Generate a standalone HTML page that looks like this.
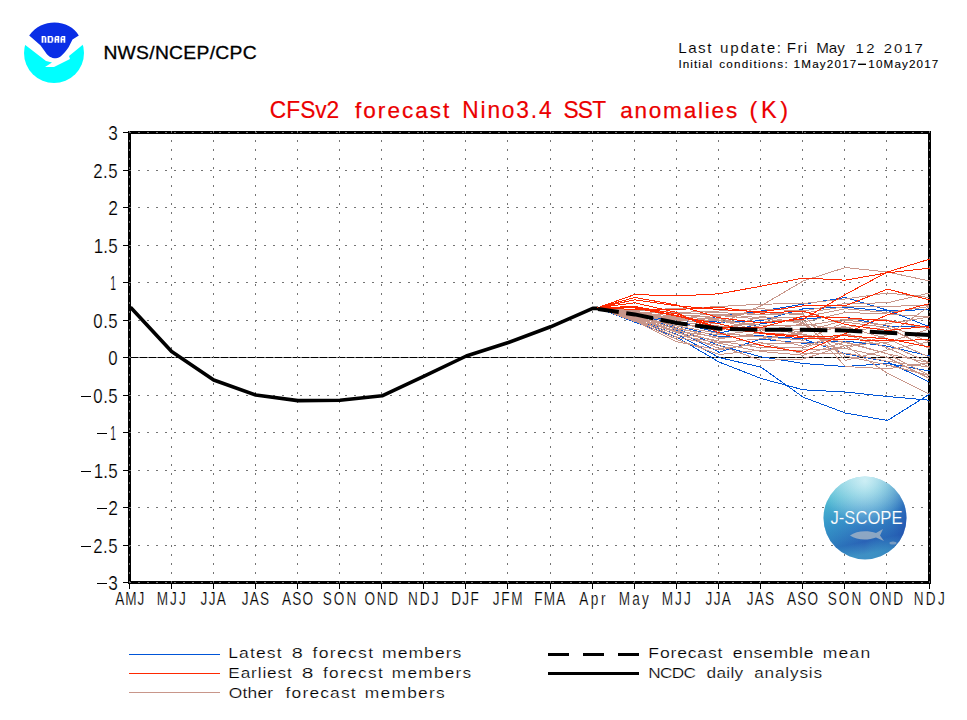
<!DOCTYPE html>
<html><head><meta charset="utf-8"><style>
html,body{margin:0;padding:0;background:#fff;}
svg{display:block;}
text{font-family:"Liberation Sans", sans-serif;}
</style></head><body>
<svg width="967" height="720" viewBox="0 0 967 720">
<rect width="967" height="720" fill="#fff"/>

<g>
 <clipPath id="nc"><circle cx="54" cy="53" r="30"/></clipPath>
 <g clip-path="url(#nc)">
  <path d="M20,41 L46,61 L52,62.5 L45,67 L54,67 L70,59 L69,56 L90,39 L90,90 L20,90 Z" fill="#00ffff"/>
 </g>
 <path d="M54.5,22.4 C45,22.6 36,26 29.2,35.5 L40.4,45.2 L45.3,52 C48,56 51,58.3 56,58.3 C60,58 63,55 68.6,47.2 L72.5,39.4 L78.8,35.5 C74,27 65,22.6 54.5,22.4 Z" fill="#0a2ee6"/>
 <path d="M41.6,42.7 V36.1 H45.5 V37.3 H46.4 V42.7 H44.6 V37.3 H43.4 V42.7 Z M47.6,36.1 H52.4 V37.3 H53.3 V41.5 H52.4 V42.7 H47.6 Z M49.4,37.3 V41.5 H51.5 V37.3 Z M54.5,42.7 V37.3 H55.4 V36.1 H59.3 V42.7 H57.5 V40.3 H56.3 V42.7 Z M56.3,37.3 V39.1 H57.5 V37.3 Z M60.5,42.7 V37.3 H61.4 V36.1 H65.3 V42.7 H63.5 V40.3 H62.3 V42.7 Z M62.3,37.3 V39.1 H63.5 V37.3 Z" fill="#fff"/>
</g>
<g shape-rendering="crispEdges">
<line x1="129" y1="357.5" x2="930" y2="357.5" stroke="#000" stroke-width="1"/>
<rect x="129.5" y="132.5" width="800" height="450" fill="none" stroke="#000" stroke-width="3"/>
<line x1="123" y1="132.5" x2="129" y2="132.5" stroke="#000" stroke-width="1"/>
<line x1="123" y1="170.5" x2="129" y2="170.5" stroke="#000" stroke-width="1"/>
<line x1="123" y1="207.5" x2="129" y2="207.5" stroke="#000" stroke-width="1"/>
<line x1="123" y1="245.5" x2="129" y2="245.5" stroke="#000" stroke-width="1"/>
<line x1="123" y1="282.5" x2="129" y2="282.5" stroke="#000" stroke-width="1"/>
<line x1="123" y1="320.5" x2="129" y2="320.5" stroke="#000" stroke-width="1"/>
<line x1="123" y1="357.5" x2="129" y2="357.5" stroke="#000" stroke-width="1"/>
<line x1="123" y1="395.5" x2="129" y2="395.5" stroke="#000" stroke-width="1"/>
<line x1="123" y1="432.5" x2="129" y2="432.5" stroke="#000" stroke-width="1"/>
<line x1="123" y1="470.5" x2="129" y2="470.5" stroke="#000" stroke-width="1"/>
<line x1="123" y1="507.5" x2="129" y2="507.5" stroke="#000" stroke-width="1"/>
<line x1="123" y1="545.5" x2="129" y2="545.5" stroke="#000" stroke-width="1"/>
<line x1="123" y1="582.5" x2="129" y2="582.5" stroke="#000" stroke-width="1"/>
<line x1="129.5" y1="583" x2="129.5" y2="589" stroke="#000" stroke-width="1"/>
<line x1="171.5" y1="583" x2="171.5" y2="589" stroke="#000" stroke-width="1"/>
<line x1="213.5" y1="583" x2="213.5" y2="589" stroke="#000" stroke-width="1"/>
<line x1="255.5" y1="583" x2="255.5" y2="589" stroke="#000" stroke-width="1"/>
<line x1="297.5" y1="583" x2="297.5" y2="589" stroke="#000" stroke-width="1"/>
<line x1="339.5" y1="583" x2="339.5" y2="589" stroke="#000" stroke-width="1"/>
<line x1="381.5" y1="583" x2="381.5" y2="589" stroke="#000" stroke-width="1"/>
<line x1="423.5" y1="583" x2="423.5" y2="589" stroke="#000" stroke-width="1"/>
<line x1="465.5" y1="583" x2="465.5" y2="589" stroke="#000" stroke-width="1"/>
<line x1="507.5" y1="583" x2="507.5" y2="589" stroke="#000" stroke-width="1"/>
<line x1="550.5" y1="583" x2="550.5" y2="589" stroke="#000" stroke-width="1"/>
<line x1="592.5" y1="583" x2="592.5" y2="589" stroke="#000" stroke-width="1"/>
<line x1="634.5" y1="583" x2="634.5" y2="589" stroke="#000" stroke-width="1"/>
<line x1="676.5" y1="583" x2="676.5" y2="589" stroke="#000" stroke-width="1"/>
<line x1="718.5" y1="583" x2="718.5" y2="589" stroke="#000" stroke-width="1"/>
<line x1="760.5" y1="583" x2="760.5" y2="589" stroke="#000" stroke-width="1"/>
<line x1="802.5" y1="583" x2="802.5" y2="589" stroke="#000" stroke-width="1"/>
<line x1="844.5" y1="583" x2="844.5" y2="589" stroke="#000" stroke-width="1"/>
<line x1="886.5" y1="583" x2="886.5" y2="589" stroke="#000" stroke-width="1"/>
<line x1="929.5" y1="583" x2="929.5" y2="589" stroke="#000" stroke-width="1"/>
</g>
<g shape-rendering="crispEdges">
<line x1="129" y1="132.5" x2="930" y2="132.5" stroke="#747474" stroke-width="1" stroke-dasharray="2 7"/>
<line x1="129" y1="170.5" x2="930" y2="170.5" stroke="#747474" stroke-width="1" stroke-dasharray="2 7"/>
<line x1="129" y1="207.5" x2="930" y2="207.5" stroke="#747474" stroke-width="1" stroke-dasharray="2 7"/>
<line x1="129" y1="245.5" x2="930" y2="245.5" stroke="#747474" stroke-width="1" stroke-dasharray="2 7"/>
<line x1="129" y1="282.5" x2="930" y2="282.5" stroke="#747474" stroke-width="1" stroke-dasharray="2 7"/>
<line x1="129" y1="320.5" x2="930" y2="320.5" stroke="#747474" stroke-width="1" stroke-dasharray="2 7"/>
<line x1="129" y1="357.5" x2="930" y2="357.5" stroke="#747474" stroke-width="1" stroke-dasharray="2 7"/>
<line x1="129" y1="395.5" x2="930" y2="395.5" stroke="#747474" stroke-width="1" stroke-dasharray="2 7"/>
<line x1="129" y1="432.5" x2="930" y2="432.5" stroke="#747474" stroke-width="1" stroke-dasharray="2 7"/>
<line x1="129" y1="470.5" x2="930" y2="470.5" stroke="#747474" stroke-width="1" stroke-dasharray="2 7"/>
<line x1="129" y1="507.5" x2="930" y2="507.5" stroke="#747474" stroke-width="1" stroke-dasharray="2 7"/>
<line x1="129" y1="545.5" x2="930" y2="545.5" stroke="#747474" stroke-width="1" stroke-dasharray="2 7"/>
<line x1="129" y1="582.5" x2="930" y2="582.5" stroke="#747474" stroke-width="1" stroke-dasharray="2 7"/>
<line x1="129.5" y1="131" x2="129.5" y2="584" stroke="#747474" stroke-width="1" stroke-dasharray="2 7"/>
<line x1="171.5" y1="131" x2="171.5" y2="584" stroke="#747474" stroke-width="1" stroke-dasharray="2 7"/>
<line x1="213.5" y1="131" x2="213.5" y2="584" stroke="#747474" stroke-width="1" stroke-dasharray="2 7"/>
<line x1="255.5" y1="131" x2="255.5" y2="584" stroke="#747474" stroke-width="1" stroke-dasharray="2 7"/>
<line x1="297.5" y1="131" x2="297.5" y2="584" stroke="#747474" stroke-width="1" stroke-dasharray="2 7"/>
<line x1="339.5" y1="131" x2="339.5" y2="584" stroke="#747474" stroke-width="1" stroke-dasharray="2 7"/>
<line x1="381.5" y1="131" x2="381.5" y2="584" stroke="#747474" stroke-width="1" stroke-dasharray="2 7"/>
<line x1="423.5" y1="131" x2="423.5" y2="584" stroke="#747474" stroke-width="1" stroke-dasharray="2 7"/>
<line x1="465.5" y1="131" x2="465.5" y2="584" stroke="#747474" stroke-width="1" stroke-dasharray="2 7"/>
<line x1="507.5" y1="131" x2="507.5" y2="584" stroke="#747474" stroke-width="1" stroke-dasharray="2 7"/>
<line x1="550.5" y1="131" x2="550.5" y2="584" stroke="#747474" stroke-width="1" stroke-dasharray="2 7"/>
<line x1="592.5" y1="131" x2="592.5" y2="584" stroke="#747474" stroke-width="1" stroke-dasharray="2 7"/>
<line x1="634.5" y1="131" x2="634.5" y2="584" stroke="#747474" stroke-width="1" stroke-dasharray="2 7"/>
<line x1="676.5" y1="131" x2="676.5" y2="584" stroke="#747474" stroke-width="1" stroke-dasharray="2 7"/>
<line x1="718.5" y1="131" x2="718.5" y2="584" stroke="#747474" stroke-width="1" stroke-dasharray="2 7"/>
<line x1="760.5" y1="131" x2="760.5" y2="584" stroke="#747474" stroke-width="1" stroke-dasharray="2 7"/>
<line x1="802.5" y1="131" x2="802.5" y2="584" stroke="#747474" stroke-width="1" stroke-dasharray="2 7"/>
<line x1="844.5" y1="131" x2="844.5" y2="584" stroke="#747474" stroke-width="1" stroke-dasharray="2 7"/>
<line x1="886.5" y1="131" x2="886.5" y2="584" stroke="#747474" stroke-width="1" stroke-dasharray="2 7"/>
<line x1="929.5" y1="131" x2="929.5" y2="584" stroke="#747474" stroke-width="1" stroke-dasharray="2 7"/>
</g>
<path d="M130.5,307.2 L171.6,351.5 L213.7,380.0 L255.8,395.0 L297.9,400.6 L340.0,400.2 L382.1,395.8 L424.2,376.2 L466.3,356.0 L508.4,342.5 L550.6,326.8 L592.7,308.4 L598.0,308.4" fill="none" stroke="#000" stroke-width="3.6" stroke-linejoin="round"/>
<g fill="none" stroke-width="1" shape-rendering="crispEdges"><path d="M597.5,307.8 L634.8,320.0 L676.9,334.2 L719.0,357.5 L761.1,367.2 L803.2,397.2 L845.3,413.0 L887.4,420.5 L929.5,394.2" stroke="#0055d8"/>
<path d="M597.5,307.8 L634.8,322.2 L676.9,337.2 L719.0,362.0 L761.1,378.5 L803.2,389.8 L845.3,392.0 L887.4,396.5 L929.5,400.2" stroke="#0055d8"/>
<path d="M597.5,307.8 L634.8,316.2 L676.9,328.6 L719.0,345.5 L761.1,356.8 L803.2,363.5 L845.3,366.5 L887.4,363.5 L929.5,371.0" stroke="#0055d8"/>
<path d="M597.5,307.8 L634.8,320.8 L676.9,330.5 L719.0,352.2 L761.1,339.1 L803.2,343.2 L845.3,341.0 L887.4,346.2 L929.5,356.0" stroke="#0055d8"/>
<path d="M597.5,307.8 L634.8,317.8 L676.9,326.0 L719.0,336.5 L761.1,335.8 L803.2,338.8 L845.3,353.8 L887.4,361.6 L929.5,382.2" stroke="#0055d8"/>
<path d="M597.5,307.8 L634.8,314.0 L676.9,321.5 L719.0,333.1 L761.1,323.8 L803.2,318.5 L845.3,317.0 L887.4,326.0 L929.5,326.0" stroke="#0055d8"/>
<path d="M597.5,307.8 L634.8,312.5 L676.9,318.5 L719.0,322.2 L761.1,320.8 L803.2,308.8 L845.3,307.2 L887.4,311.0 L929.5,309.5" stroke="#0055d8"/>
<path d="M597.5,307.8 L634.8,314.8 L676.9,323.8 L719.0,316.2 L761.1,311.0 L803.2,304.2 L845.3,297.5 L887.4,310.2 L929.5,326.8" stroke="#0055d8"/>
<path d="M597.5,307.8 L634.8,311.0 L676.9,320.0 L719.0,323.8 L761.1,305.8 L803.2,281.0 L845.3,267.5 L887.4,272.0 L929.5,281.0" stroke="#c8968a"/>
<path d="M597.5,307.8 L634.8,309.5 L676.9,308.8 L719.0,306.5 L761.1,304.2 L803.2,303.5 L845.3,299.0 L887.4,293.0 L929.5,297.5" stroke="#c8968a"/>
<path d="M597.5,307.8 L634.8,310.2 L676.9,312.5 L719.0,311.0 L761.1,308.8 L803.2,311.0 L845.3,303.5 L887.4,302.8 L929.5,293.0" stroke="#c8968a"/>
<path d="M597.5,307.8 L634.8,311.8 L676.9,314.0 L719.0,312.5 L761.1,314.8 L803.2,313.2 L845.3,306.5 L887.4,306.5 L929.5,305.0" stroke="#c8968a"/>
<path d="M597.5,307.8 L634.8,312.5 L676.9,316.2 L719.0,314.0 L761.1,317.8 L803.2,317.0 L845.3,308.8 L887.4,312.5 L929.5,306.5" stroke="#c8968a"/>
<path d="M597.5,307.8 L634.8,313.2 L676.9,317.8 L719.0,315.5 L761.1,319.2 L803.2,322.2 L845.3,312.5 L887.4,314.0 L929.5,317.0" stroke="#c8968a"/>
<path d="M597.5,307.8 L634.8,314.0 L676.9,318.5 L719.0,320.8 L761.1,325.2 L803.2,326.0 L845.3,319.2 L887.4,320.0 L929.5,329.0" stroke="#c8968a"/>
<path d="M597.5,307.8 L634.8,314.8 L676.9,320.0 L719.0,318.5 L761.1,327.5 L803.2,332.0 L845.3,320.0 L887.4,325.2 L929.5,341.8" stroke="#c8968a"/>
<path d="M597.5,307.8 L634.8,315.5 L676.9,326.0 L719.0,333.5 L761.1,336.5 L803.2,340.2 L845.3,322.2 L887.4,327.5 L929.5,348.5" stroke="#c8968a"/>
<path d="M597.5,307.8 L634.8,316.2 L676.9,329.0 L719.0,335.0 L761.1,329.8 L803.2,329.0 L845.3,326.8 L887.4,338.8 L929.5,357.1" stroke="#c8968a"/>
<path d="M597.5,307.8 L634.8,317.0 L676.9,331.2 L719.0,337.2 L761.1,336.5 L803.2,346.2 L845.3,333.5 L887.4,344.0 L929.5,362.8" stroke="#c8968a"/>
<path d="M597.5,307.8 L634.8,317.8 L676.9,332.8 L719.0,341.0 L761.1,347.8 L803.2,347.8 L845.3,334.2 L887.4,347.8 L929.5,367.2" stroke="#c8968a"/>
<path d="M597.5,307.8 L634.8,318.5 L676.9,335.0 L719.0,343.2 L761.1,351.5 L803.2,355.2 L845.3,341.8 L887.4,353.8 L929.5,375.5" stroke="#c8968a"/>
<path d="M597.5,307.8 L634.8,319.2 L676.9,337.2 L719.0,345.5 L761.1,360.5 L803.2,359.0 L845.3,345.5 L887.4,373.2 L929.5,394.2" stroke="#c8968a"/>
<path d="M597.5,307.8 L634.8,320.0 L676.9,339.5 L719.0,354.5 L761.1,350.0 L803.2,350.0 L845.3,348.5 L887.4,357.5 L929.5,378.5" stroke="#c8968a"/>
<path d="M597.5,307.8 L634.8,320.8 L676.9,341.8 L719.0,350.0 L761.1,342.5 L803.2,353.8 L845.3,353.0 L887.4,361.2 L929.5,367.2" stroke="#c8968a"/>
<path d="M597.5,307.8 L634.8,321.5 L676.9,323.0 L719.0,331.2 L761.1,316.2 L803.2,323.8 L845.3,356.0 L887.4,365.0 L929.5,375.5" stroke="#c8968a"/>
<path d="M597.5,307.8 L634.8,311.0 L676.9,321.5 L719.0,316.2 L761.1,312.5 L803.2,314.8 L845.3,360.5 L887.4,350.0 L929.5,341.8" stroke="#c8968a"/>
<path d="M597.5,307.8 L634.8,312.5 L676.9,324.5 L719.0,327.5 L761.1,322.2 L803.2,320.0 L845.3,366.5 L887.4,368.8 L929.5,362.8" stroke="#c8968a"/>
<path d="M597.5,307.8 L634.8,314.0 L676.9,327.5 L719.0,338.8 L761.1,332.8 L803.2,335.0 L845.3,345.5 L887.4,342.5 L929.5,329.0" stroke="#c8968a"/>
<path d="M597.5,307.8 L634.8,315.5 L676.9,329.8 L719.0,342.5 L761.1,338.8 L803.2,332.0 L845.3,327.5 L887.4,323.8 L929.5,317.0" stroke="#c8968a"/>
<path d="M597.5,307.8 L634.8,317.0 L676.9,332.0 L719.0,348.5 L761.1,344.0 L803.2,342.5 L845.3,348.5 L887.4,335.0 L929.5,306.5" stroke="#c8968a"/>
<path d="M597.5,307.8 L634.8,318.5 L676.9,316.2 L719.0,320.0 L761.1,331.2 L803.2,323.8 L845.3,330.5 L887.4,327.5 L929.5,348.5" stroke="#c8968a"/>
<path d="M597.5,307.8 L634.8,320.0 L676.9,322.2 L719.0,326.0 L761.1,328.2 L803.2,334.2 L845.3,342.5 L887.4,353.8 L929.5,362.8" stroke="#c8968a"/>
<path d="M597.5,307.8 L634.8,294.5 L676.9,296.0 L719.0,293.8 L761.1,286.2 L803.2,278.0 L845.3,280.2 L887.4,272.8 L929.5,268.2" stroke="#ff2800"/>
<path d="M597.5,307.8 L634.8,297.5 L676.9,305.0 L719.0,317.8 L761.1,323.0 L803.2,319.2 L845.3,294.5 L887.4,272.0 L929.5,259.2" stroke="#ff2800"/>
<path d="M597.5,307.8 L634.8,299.8 L676.9,305.8 L719.0,309.5 L761.1,311.8 L803.2,305.8 L845.3,305.8 L887.4,289.2 L929.5,299.8" stroke="#ff2800"/>
<path d="M597.5,307.8 L634.8,302.8 L676.9,312.5 L719.0,332.8 L761.1,345.5 L803.2,352.2 L845.3,333.5 L887.4,314.8 L929.5,303.5" stroke="#ff2800"/>
<path d="M597.5,307.8 L634.8,306.5 L676.9,314.0 L719.0,327.5 L761.1,327.5 L803.2,316.2 L845.3,317.8 L887.4,320.8 L929.5,327.5" stroke="#ff2800"/>
<path d="M597.5,307.8 L634.8,307.2 L676.9,315.5 L719.0,328.2 L761.1,332.8 L803.2,336.5 L845.3,335.8 L887.4,338.8 L929.5,347.0" stroke="#ff2800"/>
<path d="M597.5,307.8 L634.8,308.0 L676.9,316.2 L719.0,323.8 L761.1,333.5 L803.2,338.0 L845.3,339.5 L887.4,341.0 L929.5,339.5" stroke="#ff2800"/>
<path d="M597.5,307.8 L634.8,309.5 L676.9,309.5 L719.0,307.2 L761.1,313.2 L803.2,311.0 L845.3,324.5 L887.4,330.5 L929.5,326.0" stroke="#ff2800"/></g>
<path d="M598.0,309.1 L634.8,314.4 L676.9,323.0 L719.0,328.6 L761.1,329.8 L803.2,329.8 L845.3,330.5 L887.4,332.8 L929.5,335.0" fill="none" stroke="#000" stroke-width="4" stroke-dasharray="27.5 7.5" stroke-dashoffset="6.5"/>

<defs>
 <linearGradient id="jg" x1="0" y1="0" x2="0.2" y2="1">
  <stop offset="0" stop-color="#9cdbe8"/>
  <stop offset="0.28" stop-color="#5cbcd6"/>
  <stop offset="0.55" stop-color="#3a8cca"/>
  <stop offset="0.85" stop-color="#2a62b6"/>
  <stop offset="1" stop-color="#3f8fc4"/>
 </linearGradient>
 <radialGradient id="jr" cx="0.5" cy="0.05" r="0.55">
  <stop offset="0" stop-color="#e8fafc" stop-opacity="0.75"/>
  <stop offset="1" stop-color="#e8fafc" stop-opacity="0"/>
 </radialGradient>
 <linearGradient id="jside" x1="0" y1="0" x2="1" y2="0">
  <stop offset="0" stop-color="#30b0c8" stop-opacity="0.35"/>
  <stop offset="0.5" stop-color="#30b0c8" stop-opacity="0"/>
  <stop offset="1" stop-color="#1a40a8" stop-opacity="0.5"/>
 </linearGradient>
</defs>
<circle cx="865" cy="518" r="41.5" fill="url(#jg)"/>
<circle cx="865" cy="518" r="41.5" fill="url(#jside)"/>
<circle cx="865" cy="518" r="41.5" fill="url(#jr)"/>
<path d="M850,535.5 C856,530.5 868,530 876,533 L883,529 L880,535.5 L884,541 L876,537.5 C868,540.5 857,540.5 850,535.5 Z" fill="#98adc4" opacity="0.9"/>
<ellipse cx="893" cy="543" rx="3.5" ry="1.5" fill="#98adc4" opacity="0.7"/>
<text x="830.5" y="524.3" font-size="17.8" textLength="72" lengthAdjust="spacingAndGlyphs" fill="#fff" stroke="#4a90c0" stroke-width="0.15">J-SCOPE</text>

<g shape-rendering="crispEdges">
<line x1="129" y1="654.5" x2="220" y2="654.5" stroke="#0055d8" stroke-width="1"/>
<line x1="129" y1="673.5" x2="220" y2="673.5" stroke="#ff2800" stroke-width="1"/>
<line x1="129" y1="692.5" x2="220" y2="692.5" stroke="#c8968a" stroke-width="1"/>
</g>
<line x1="548" y1="654.5" x2="639" y2="654.5" stroke="#000" stroke-width="3" stroke-dasharray="21 14"/>
<line x1="548" y1="673.5" x2="639" y2="673.5" stroke="#000" stroke-width="3"/>
<rect x="858" y="63.6" width="8" height="1.4" fill="#000"/>
<g shape-rendering="crispEdges"><rect x="81" y="396" width="10" height="1" fill="#000"/><rect x="97" y="433" width="10" height="1" fill="#000"/><rect x="81" y="471" width="10" height="1" fill="#000"/><rect x="97" y="508" width="10" height="1" fill="#000"/><rect x="81" y="546" width="10" height="1" fill="#000"/><rect x="97" y="583" width="10" height="1" fill="#000"/></g>
<text transform="translate(103.39,58.70) scale(1.080,1)" font-size="17.88" letter-spacing="0.263" fill="#000" stroke="#000" stroke-width="0.3">NWS/NCEP/CPC</text>
<text transform="translate(678.23,53.10) scale(1.100,1)" font-size="13.81" letter-spacing="1.351" fill="#000" stroke="#fff" stroke-width="0.1">Last</text>
<text transform="translate(720.09,53.10) scale(1.100,1)" font-size="13.81" letter-spacing="1.572" fill="#000" stroke="#fff" stroke-width="0.1">update:</text>
<text transform="translate(786.83,53.10) scale(1.100,1)" font-size="13.81" letter-spacing="1.208" fill="#000" stroke="#fff" stroke-width="0.1">Fri</text>
<text transform="translate(816.13,53.10) scale(1.100,1)" font-size="13.81" letter-spacing="0.027" fill="#000" stroke="#fff" stroke-width="0.1">May</text>
<text transform="translate(855.38,53.10) scale(1.100,1)" font-size="13.57" letter-spacing="2.382" fill="#000" stroke="#fff" stroke-width="0.1">12</text>
<text transform="translate(883.65,53.10) scale(1.100,1)" font-size="13.57" letter-spacing="1.811" fill="#000" stroke="#fff" stroke-width="0.1">2017</text>
<text transform="translate(678.43,67.60) scale(1.100,1)" font-size="10.61" letter-spacing="0.972" fill="#000" stroke="#000" stroke-width="0.1">Initial</text>
<text transform="translate(719.21,67.60) scale(1.100,1)" font-size="10.61" letter-spacing="1.157" fill="#000" stroke="#000" stroke-width="0.1">conditions:</text>
<text transform="translate(793.62,67.60) scale(1.100,1)" font-size="10.61" letter-spacing="1.077" fill="#000" stroke="#000" stroke-width="0.1">1May2017</text>
<text transform="translate(868.32,67.60) scale(1.100,1)" font-size="10.61" letter-spacing="1.031" fill="#000" stroke="#000" stroke-width="0.1">10May2017</text>
<text transform="translate(269.86,118.00) scale(0.920,1)" font-size="24.71" letter-spacing="-0.014" fill="#eb0000" stroke="#eb0000" stroke-width="0.2">CFSv2</text>
<text transform="translate(462.21,118.00) scale(0.920,1)" font-size="24.71" letter-spacing="2.015" fill="#eb0000" stroke="#eb0000" stroke-width="0.2">Nino3.4</text>
<text transform="translate(563.46,118.00) scale(0.920,1)" font-size="24.71" letter-spacing="-0.828" fill="#eb0000" stroke="#eb0000" stroke-width="0.2">SST</text>
<text transform="translate(355.02,118.00) scale(1.000,1)" font-size="22.53" letter-spacing="2.028" fill="#eb0000" stroke="#eb0000" stroke-width="0.25">forecast</text>
<text transform="translate(620.16,118.00) scale(1.000,1)" font-size="22.53" letter-spacing="1.799" fill="#eb0000" stroke="#eb0000" stroke-width="0.25">anomalies</text>
<text transform="translate(749.43,118.00) scale(0.950,1)" font-size="24.71" letter-spacing="3.861" fill="#eb0000" stroke="#eb0000" stroke-width="0.2">(K)</text>
<text transform="translate(108.29,140.00) scale(0.867,1)" font-size="19.76" letter-spacing="0.000" fill="#000" stroke="#fff" stroke-width="0.2">3</text>
<text transform="translate(93.16,178.00) scale(0.840,1)" font-size="20.00" letter-spacing="0.690" fill="#000" stroke="#fff" stroke-width="0.2">2.5</text>
<text transform="translate(108.13,215.00) scale(0.873,1)" font-size="20.00" letter-spacing="0.000" fill="#000" stroke="#fff" stroke-width="0.2">2</text>
<text transform="translate(93.72,253.00) scale(0.840,1)" font-size="20.24" letter-spacing="0.192" fill="#000" stroke="#fff" stroke-width="0.2">1.5</text>
<text transform="translate(110.22,290.00) scale(0.513,1)" font-size="20.24" letter-spacing="0.000" fill="#000" stroke="#fff" stroke-width="0.2">1</text>
<text transform="translate(93.30,328.00) scale(0.840,1)" font-size="20.00" letter-spacing="0.607" fill="#000" stroke="#fff" stroke-width="0.2">0.5</text>
<text transform="translate(108.30,365.00) scale(0.842,1)" font-size="20.00" letter-spacing="0.000" fill="#000" stroke="#fff" stroke-width="0.2">0</text>
<text transform="translate(93.30,403.00) scale(0.840,1)" font-size="20.00" letter-spacing="0.607" fill="#000" stroke="#fff" stroke-width="0.2">0.5</text>
<text transform="translate(110.22,440.00) scale(0.513,1)" font-size="20.24" letter-spacing="0.000" fill="#000" stroke="#fff" stroke-width="0.2">1</text>
<text transform="translate(93.72,478.00) scale(0.840,1)" font-size="20.24" letter-spacing="0.192" fill="#000" stroke="#fff" stroke-width="0.2">1.5</text>
<text transform="translate(108.13,515.00) scale(0.873,1)" font-size="20.00" letter-spacing="0.000" fill="#000" stroke="#fff" stroke-width="0.2">2</text>
<text transform="translate(93.16,553.00) scale(0.840,1)" font-size="20.00" letter-spacing="0.690" fill="#000" stroke="#fff" stroke-width="0.2">2.5</text>
<text transform="translate(108.29,590.00) scale(0.867,1)" font-size="19.76" letter-spacing="0.000" fill="#000" stroke="#fff" stroke-width="0.2">3</text>
<text transform="translate(115.19,605.00) scale(0.720,1)" font-size="18.90" letter-spacing="1.336" fill="#000" stroke="#fff" stroke-width="0.2">AMJ</text>
<text transform="translate(156.67,605.00) scale(0.720,1)" font-size="18.90" letter-spacing="2.925" fill="#000" stroke="#fff" stroke-width="0.2">MJJ</text>
<text transform="translate(200.57,605.00) scale(0.720,1)" font-size="18.90" letter-spacing="1.851" fill="#000" stroke="#fff" stroke-width="0.2">JJA</text>
<text transform="translate(241.87,605.00) scale(0.720,1)" font-size="18.90" letter-spacing="1.642" fill="#000" stroke="#fff" stroke-width="0.2">JAS</text>
<text transform="translate(282.04,605.00) scale(0.720,1)" font-size="18.90" letter-spacing="1.595" fill="#000" stroke="#fff" stroke-width="0.2">ASO</text>
<text transform="translate(322.82,605.00) scale(0.720,1)" font-size="18.90" letter-spacing="2.734" fill="#000" stroke="#fff" stroke-width="0.2">SON</text>
<text transform="translate(364.47,605.00) scale(0.720,1)" font-size="18.90" letter-spacing="2.354" fill="#000" stroke="#fff" stroke-width="0.2">OND</text>
<text transform="translate(407.97,605.00) scale(0.720,1)" font-size="18.90" letter-spacing="2.874" fill="#000" stroke="#fff" stroke-width="0.2">NDJ</text>
<text transform="translate(451.22,605.00) scale(0.720,1)" font-size="18.90" letter-spacing="1.846" fill="#000" stroke="#fff" stroke-width="0.2">DJF</text>
<text transform="translate(492.87,605.00) scale(0.720,1)" font-size="18.90" letter-spacing="2.322" fill="#000" stroke="#fff" stroke-width="0.2">JFM</text>
<text transform="translate(534.17,605.00) scale(0.720,1)" font-size="18.90" letter-spacing="1.701" fill="#000" stroke="#fff" stroke-width="0.2">FMA</text>
<text transform="translate(579.19,605.00) scale(0.720,1)" font-size="18.90" letter-spacing="3.569" fill="#000" stroke="#fff" stroke-width="0.2">Apr</text>
<text transform="translate(618.67,605.00) scale(0.720,1)" font-size="18.90" letter-spacing="3.133" fill="#000" stroke="#fff" stroke-width="0.2">May</text>
<text transform="translate(661.67,605.00) scale(0.720,1)" font-size="18.90" letter-spacing="2.925" fill="#000" stroke="#fff" stroke-width="0.2">MJJ</text>
<text transform="translate(705.57,605.00) scale(0.720,1)" font-size="18.90" letter-spacing="1.851" fill="#000" stroke="#fff" stroke-width="0.2">JJA</text>
<text transform="translate(746.87,605.00) scale(0.720,1)" font-size="18.90" letter-spacing="1.642" fill="#000" stroke="#fff" stroke-width="0.2">JAS</text>
<text transform="translate(787.04,605.00) scale(0.720,1)" font-size="18.90" letter-spacing="1.595" fill="#000" stroke="#fff" stroke-width="0.2">ASO</text>
<text transform="translate(827.82,605.00) scale(0.720,1)" font-size="18.90" letter-spacing="2.734" fill="#000" stroke="#fff" stroke-width="0.2">SON</text>
<text transform="translate(869.47,605.00) scale(0.720,1)" font-size="18.90" letter-spacing="2.354" fill="#000" stroke="#fff" stroke-width="0.2">OND</text>
<text transform="translate(913.67,605.00) scale(0.720,1)" font-size="18.90" letter-spacing="3.290" fill="#000" stroke="#fff" stroke-width="0.2">NDJ</text>
<text transform="translate(228.24,657.80) scale(1.150,1)" font-size="15.26" letter-spacing="0.953" fill="#000" stroke="#fff" stroke-width="0.2">Latest</text>
<text transform="translate(291.87,657.80) scale(1.344,1)" font-size="14.82" letter-spacing="0.000" fill="#000" stroke="#fff" stroke-width="0.2">8</text>
<text transform="translate(312.61,657.80) scale(1.150,1)" font-size="15.26" letter-spacing="1.128" fill="#000" stroke="#fff" stroke-width="0.2">forecst</text>
<text transform="translate(382.03,657.80) scale(1.150,1)" font-size="15.26" letter-spacing="0.902" fill="#000" stroke="#fff" stroke-width="0.2">members</text>
<text transform="translate(228.27,677.60) scale(1.150,1)" font-size="14.97" letter-spacing="0.769" fill="#000" stroke="#fff" stroke-width="0.2">Earliest</text>
<text transform="translate(301.73,677.60) scale(1.444,1)" font-size="14.54" letter-spacing="0.000" fill="#000" stroke="#fff" stroke-width="0.2">8</text>
<text transform="translate(322.91,677.60) scale(1.150,1)" font-size="14.97" letter-spacing="1.200" fill="#000" stroke="#fff" stroke-width="0.2">forecst</text>
<text transform="translate(391.85,677.60) scale(1.150,1)" font-size="14.97" letter-spacing="1.099" fill="#000" stroke="#fff" stroke-width="0.2">members</text>
<text transform="translate(228.83,697.50) scale(1.150,1)" font-size="15.12" letter-spacing="0.174" fill="#000" stroke="#fff" stroke-width="0.2">Other</text>
<text transform="translate(285.51,697.50) scale(1.150,1)" font-size="15.12" letter-spacing="1.041" fill="#000" stroke="#fff" stroke-width="0.2">forecast</text>
<text transform="translate(364.74,697.50) scale(1.150,1)" font-size="15.12" letter-spacing="1.102" fill="#000" stroke="#fff" stroke-width="0.2">members</text>
<text transform="translate(648.34,657.80) scale(1.150,1)" font-size="15.26" letter-spacing="0.721" fill="#000" stroke="#fff" stroke-width="0.2">Forecast</text>
<text transform="translate(732.77,657.80) scale(1.150,1)" font-size="15.26" letter-spacing="0.572" fill="#000" stroke="#fff" stroke-width="0.2">ensemble</text>
<text transform="translate(822.73,657.80) scale(1.150,1)" font-size="15.26" letter-spacing="1.062" fill="#000" stroke="#fff" stroke-width="0.2">mean</text>
<text transform="translate(648.37,677.60) scale(1.150,1)" font-size="14.97" letter-spacing="-0.589" fill="#000" stroke="#fff" stroke-width="0.2">NCDC</text>
<text transform="translate(706.58,677.60) scale(1.150,1)" font-size="14.97" letter-spacing="0.244" fill="#000" stroke="#fff" stroke-width="0.2">daily</text>
<text transform="translate(754.18,677.60) scale(1.150,1)" font-size="14.97" letter-spacing="0.716" fill="#000" stroke="#fff" stroke-width="0.2">analysis</text>
</svg>
</body></html>
